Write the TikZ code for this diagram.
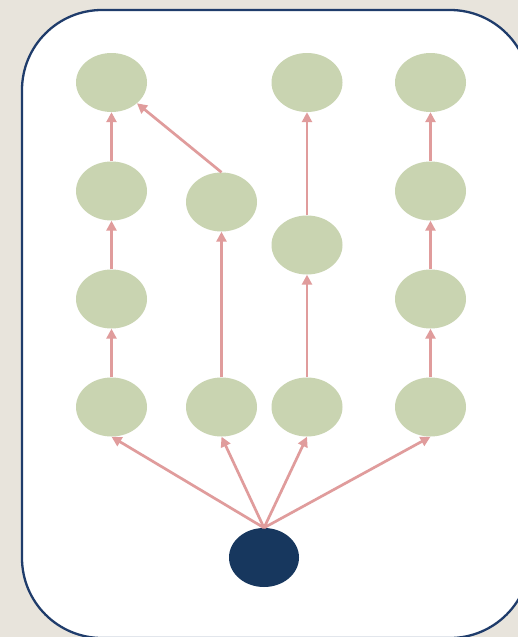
\documentclass[tikz,border=0pt]{standalone}
\usetikzlibrary{shapes.geometric,arrows.meta}
\definecolor{bgc}{HTML}{E8E4DC}
\definecolor{framec}{HTML}{1F3C6B}
\definecolor{leafc}{HTML}{C9D4B1}
\definecolor{rootc}{HTML}{17375E}
\definecolor{arrc}{HTML}{E09C9C}
\tikzset{
  leaf/.style={ellipse, fill=leafc, draw=none, minimum width=71pt, minimum height=59pt, inner sep=0pt},
  rootnode/.style={ellipse, fill=rootc, draw=none, minimum width=70pt, minimum height=59pt, inner sep=0pt},
  conn/.style={draw=arrc, line width=2.7pt, -{Triangle[length=10pt,width=10pt]}}
}
\begin{document}
\begin{tikzpicture}[x=1pt,y=-1pt]
\useasboundingbox (0,0) rectangle (518,637);
\fill[bgc] (0,0) rectangle (518,637);
\draw[framec, line width=2.3pt, fill=white, rounded corners=80pt] (22,10) rectangle (530,638);
% column 1
\node[leaf] (a1) at (111.5,82.5) {};
\node[leaf] (a2) at (111.5,191) {};
\node[leaf] (a3) at (111.5,299) {};
\node[leaf] (a4) at (111.5,407) {};
% column 2
\node[leaf] (b2) at (221.5,202) {};
\node[leaf] (b4) at (221.5,407) {};
% column 3
\node[leaf] (c1) at (307,82.5) {};
\node[leaf] (c3) at (307,245) {};
\node[leaf] (c4) at (307,407) {};
% column 4
\node[leaf] (d1) at (430.5,82.5) {};
\node[leaf] (d2) at (430.5,191) {};
\node[leaf] (d3) at (430.5,299) {};
\node[leaf] (d4) at (430.5,407) {};
% root
\node[rootnode] (r) at (264,557.5) {};
% arrows from root
\draw[conn] (r.north) -- (a4.south);
\draw[conn] (r.north) -- (b4.south);
\draw[conn] (r.north) -- (c4.south);
\draw[conn] (r.north) -- (d4.south);
% vertical chains
\draw[conn] (a4.north) -- (a3.south);
\draw[conn] (a3.north) -- (a2.south);
\draw[conn] (a2.north) -- (a1.south);
\draw[conn] (b4.north) -- (b2.south);
\draw[conn] (b2.north) -- (a1);
\draw[conn] (c4.north) -- (c3.south);
\draw[conn] (c3.north) -- (c1.south);
\draw[conn] (d4.north) -- (d3.south);
\draw[conn] (d3.north) -- (d2.south);
\draw[conn] (d2.north) -- (d1.south);
\end{tikzpicture}
\end{document}
